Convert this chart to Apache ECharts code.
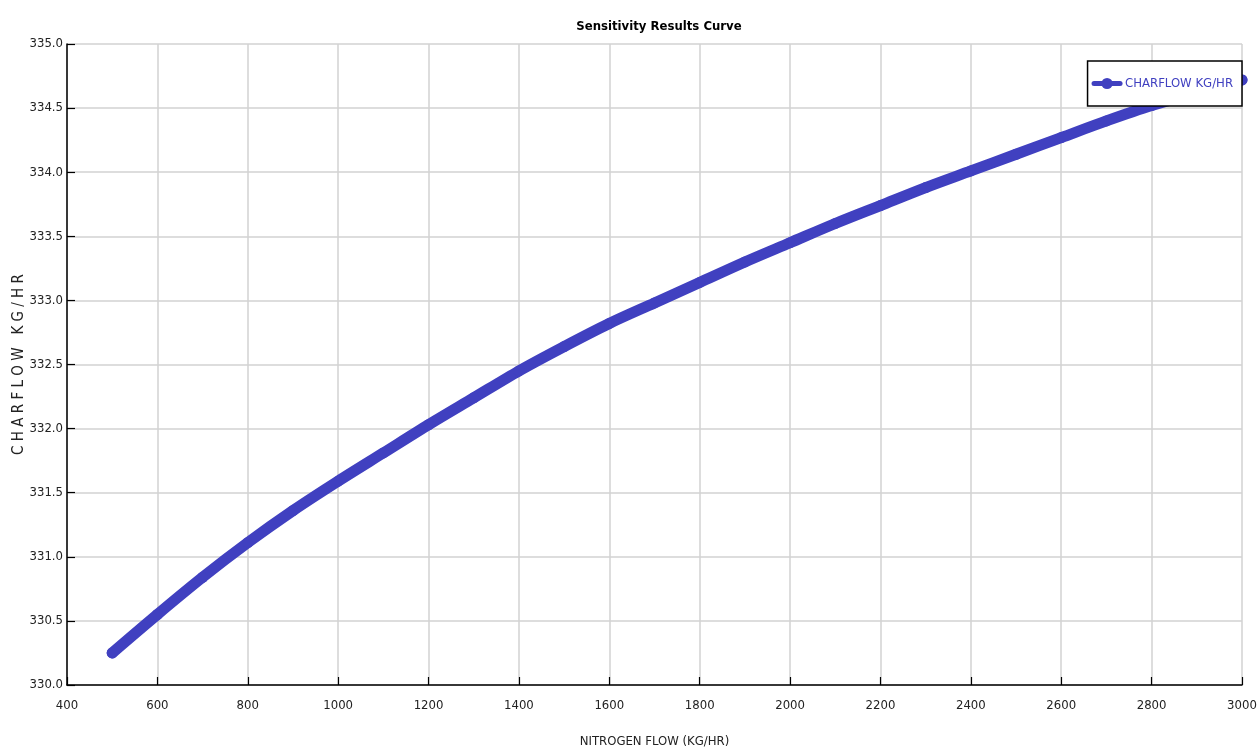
<!DOCTYPE html>
<html>
<head>
<meta charset="utf-8">
<script src="https://cdn.jsdelivr.net/npm/echarts@6/dist/echarts.min.js"></script>
<style>
html,body{margin:0;padding:0;background:#fff;}
#c{width:1258px;height:749px;}
</style>
</head>
<body>
<div id="c"></div>
<script>
const nitrogenFlow = [500,600,700,800,900,1000,1100,1200,1300,1400,1500,1600,1700,1800,1900,2000,2100,2200,2300,2400,2500,2600,2700,2800,2900,3000];
const charFlow = [330.25,330.55,330.84,331.11,331.36,331.59,331.81,332.03,332.24,332.45,332.64,332.82,332.98,333.14,333.30,333.45,333.60,333.74,333.88,334.01,334.14,334.27,334.40,334.52,334.62,334.72];
const seriesName = 'CHARFLOW KG/HR';
const titleText = 'Sensitivity Results Curve';
const xName = 'NITROGEN FLOW (KG/HR)';
const yName = 'C H A R F L O W   K G / H R';

const font = '"DejaVu Sans Condensed", "Liberation Sans Narrow", "Liberation Sans", sans-serif';
const blue = '#4040C0';
const chart = echarts.init(document.getElementById('c'));
chart.setOption({
  animation: false,
  backgroundColor: '#fff',
  title: {
    text: titleText, left: 654, top: 15, textAlign: 'center',
    textStyle: {fontFamily: font, fontWeight: 'bold', fontSize: 13, color: '#000'}
  },
  legend: {
    right: 16, top: 61, orient: 'vertical',
    borderColor: '#000', borderWidth: 1.5, backgroundColor: '#fff',
    padding: [16, 9, 16, 4], itemWidth: 26, itemHeight: 14, borderRadius: 0,
    itemGap: 4,
    lineStyle: {width: 5},
    textStyle: {fontFamily: font, fontSize: 13, color: blue},
    data: [seriesName]
  },
  grid: {left: 67, right: 16, top: 44, bottom: 64, containLabel: false, outerBoundsMode: 'none'},
  xAxis: {
    type: 'value', min: 400, max: 3000, interval: 200,
    name: xName, nameLocation: 'middle', nameGap: 50, nameMoveOverlap: false,
    nameTextStyle: {fontFamily: font, fontSize: 13, color: '#222'},
    axisLine: {show: true, lineStyle: {color: '#000', width: 1.5}},
    axisTick: {show: true, inside: true, length: 8, lineStyle: {color: '#000', width: 1.2}},
    axisLabel: {fontFamily: font, fontSize: 13, color: '#222', margin: 14, formatter: v => String(v)},
    splitLine: {show: true, lineStyle: {color: '#d2d2d2', width: 1.5}}
  },
  yAxis: {
    type: 'value', min: 330, max: 335, interval: 0.5,
    name: yName, nameLocation: 'middle', nameGap: 40, nameRotate: 90, nameMoveOverlap: false,
    nameTextStyle: {fontFamily: font, fontSize: 15, color: '#222'},
    axisLine: {show: true, lineStyle: {color: '#000', width: 1.5}},
    axisTick: {show: true, inside: true, length: 8, lineStyle: {color: '#000', width: 1.2}},
    axisLabel: {fontFamily: font, fontSize: 13, color: '#222', margin: 4, formatter: v => v.toFixed(1)},
    splitLine: {show: true, lineStyle: {color: '#d2d2d2', width: 1.5}}
  },
  series: [{
    name: seriesName, type: 'line',
    data: nitrogenFlow.map((x, i) => [x, charFlow[i]]),
    symbol: 'circle', symbolSize: 11, showSymbol: true,
    itemStyle: {color: blue},
    lineStyle: {color: blue, width: 11, cap: 'round', join: 'round'},
    smooth: 0.3, clip: false, z: 3
  }]
});
</script>
</body>
</html>
